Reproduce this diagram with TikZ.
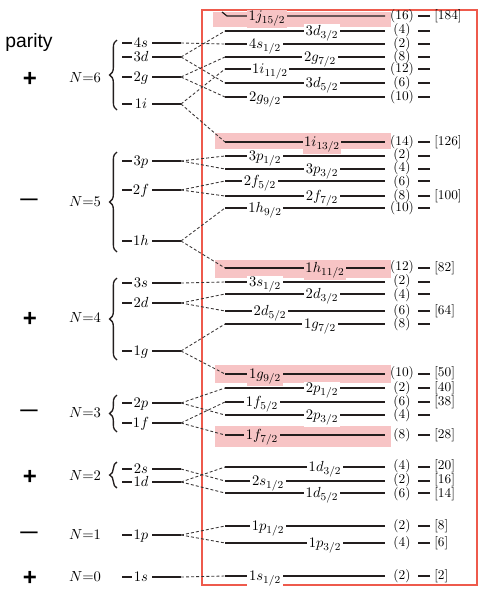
\documentclass[tikz,border=0pt]{standalone}
\usepackage{fontspec}
\newfontfamily\parfont{Liberation Sans}
\usetikzlibrary{decorations.pathreplacing}
\definecolor{figline}{RGB}{35,30,30}
\definecolor{figframe}{RGB}{238,90,76}
\definecolor{fighl}{RGB}{247,196,197}
\tikzset{
  lvl/.style  ={draw=figline, line width=0.9pt},
  conn/.style ={draw=figline!90, line width=0.65pt, dash pattern=on 2.2pt off 1.6pt},
  tick/.style ={draw=figline, line width=0.9pt},
  brc/.style  ={draw=figline, line width=1pt, decorate, decoration={brace, amplitude=5.5pt}},
  lab/.style  ={anchor=base, yshift=-3.6pt, fill=white, inner sep=1.2pt},
  labh/.style ={lab, fill=fighl},
  nlab/.style ={anchor=base, yshift=-3.6pt, inner sep=1pt},
  deg/.style  ={inner sep=0pt, font=\fontsize{10}{12}\selectfont},
  mag/.style  ={anchor=west, inner sep=0pt, font=\fontsize{10}{12}\selectfont},
  par/.style  ={font=\parfont\bfseries\fontsize{18}{18}\selectfont, inner sep=0pt},
  pard/.style ={font=\parfont\bfseries\fontsize{13}{13}\selectfont, inner sep=0pt},
  hl/.style   ={fill=fighl},
  frm/.style  ={draw=figframe, line width=1.5pt},
}

\begin{document}
\begin{tikzpicture}[x=0.75pt,y=-0.75pt,font=\fontsize{11}{13}\selectfont]
  \useasboundingbox (0,0) rectangle (484,593);
  % highlighted shell closures
  \fill[hl] (213,12) rectangle (391,27);
  \fill[hl] (215,133) rectangle (391,149);
  \fill[hl] (215,260) rectangle (391,278);
  \fill[hl] (215,365) rectangle (391,383);
  \fill[hl] (215,426) rectangle (391,447);
  \draw[frm] (202,10) rectangle (477,585);
  % parity column
  \node[font=\parfont\fontsize{14.5}{16}\selectfont, inner sep=0pt] (ptitle) at (29,42) {parity};
  \node[par] (p6) at (30,79) {+};
  \node[pard] (p5) at (29,202) {—};
  \node[par] (p4) at (30,319) {+};
  \node[pard] (p3) at (29,413) {—};
  \node[par] (p2) at (30,477) {+};
  \node[pard] (p1) at (29,535) {—};
  \node[par] (p0) at (30,578) {+};
  % oscillator shells
  \node[nlab] (N6) at (85,78) {$N{=}6$};
  \node[nlab] (N5) at (85,202) {$N{=}5$};
  \node[nlab] (N4) at (85,318) {$N{=}4$};
  \node[nlab] (N3) at (85,413) {$N{=}3$};
  \node[nlab] (N2) at (85,476) {$N{=}2$};
  \node[nlab] (N1) at (85,535) {$N{=}1$};
  \node[nlab] (N0) at (85,577) {$N{=}0$};
  \draw[brc] (117,110) -- (117,40);
  \draw[brc] (117,252) -- (117,152);
  \draw[brc] (117,360) -- (117,278);
  \draw[brc] (117,432) -- (117,395);
  \draw[brc] (117,488) -- (117,462);
  % left levels
  \draw[lvl] (122,43) -- (132,43);
  \node[nlab] (s4s) at (141,43) {$4s$};
  \draw[lvl] (152,43) -- (181,43) coordinate (L4s);
  \draw[lvl] (122,57) -- (132,57);
  \node[nlab] (s3d) at (141,57) {$3d$};
  \draw[lvl] (152,57) -- (181,57) coordinate (L3d);
  \draw[lvl] (122,77) -- (132,77);
  \node[nlab] (s2g) at (141,77) {$2g$};
  \draw[lvl] (152,77) -- (181,77) coordinate (L2g);
  \draw[lvl] (122,104) -- (132,104);
  \node[nlab] (s1i) at (141,104) {$1i$};
  \draw[lvl] (152,104) -- (181,104) coordinate (L1i);
  \draw[lvl] (122,161) -- (132,161);
  \node[nlab] (s3p) at (141,161) {$3p$};
  \draw[lvl] (152,161) -- (181,161) coordinate (L3p);
  \draw[lvl] (122,190) -- (132,190);
  \node[nlab] (s2f) at (141,190) {$2f$};
  \draw[lvl] (152,190) -- (181,190) coordinate (L2f);
  \draw[lvl] (122,241) -- (132,241);
  \node[nlab] (s1h) at (141,241) {$1h$};
  \draw[lvl] (152,241) -- (181,241) coordinate (L1h);
  \draw[lvl] (122,283) -- (132,283);
  \node[nlab] (s3s) at (141,283) {$3s$};
  \draw[lvl] (152,283) -- (181,283) coordinate (L3s);
  \draw[lvl] (122,303) -- (132,303);
  \node[nlab] (s2d) at (141,303) {$2d$};
  \draw[lvl] (152,303) -- (181,303) coordinate (L2d);
  \draw[lvl] (122,351) -- (132,351);
  \node[nlab] (s1g) at (141,351) {$1g$};
  \draw[lvl] (152,351) -- (181,351) coordinate (L1g);
  \draw[lvl] (122,403) -- (132,403);
  \node[nlab] (s2p) at (141,403) {$2p$};
  \draw[lvl] (152,403) -- (181,403) coordinate (L2p);
  \draw[lvl] (122,423) -- (132,423);
  \node[nlab] (s1f) at (141,423) {$1f$};
  \draw[lvl] (152,423) -- (181,423) coordinate (L1f);
  \draw[lvl] (122,469) -- (132,469);
  \node[nlab] (s2s) at (141,469) {$2s$};
  \draw[lvl] (152,469) -- (181,469) coordinate (L2s);
  \draw[lvl] (122,482) -- (132,482);
  \node[nlab] (s1d) at (141,482) {$1d$};
  \draw[lvl] (152,482) -- (181,482) coordinate (L1d);
  \draw[lvl] (122,535) -- (132,535);
  \node[nlab] (s1p) at (141,535) {$1p$};
  \draw[lvl] (152,535) -- (181,535) coordinate (L1p);
  \draw[lvl] (122,577) -- (132,577);
  \node[nlab] (s1s) at (141,577) {$1s$};
  \draw[lvl] (152,577) -- (181,577) coordinate (L1s);
  % right levels, N=6 and 1j
  \draw[lvl] (222,12) -- (227,16) coordinate (R1j15) -- (385,16);
  \node[labh] (t1j15) at (267,16) {$1j_{15/2}$};
  \node[deg] (d1j15) at (402,16) {(16)};
  \draw[tick] (418,16) -- (430,16);
  \node[mag] (m1j15) at (434,16) {[184]};
  \draw[lvl] (225,31) coordinate (R3d3) -- (385,31);
  \node[lab] (t3d3) at (322,31) {$3d_{3/2}$};
  \node[deg] (d3d3) at (402,30.6) {(4)};
  \draw[tick] (418,31) -- (430,31);
  \draw[lvl] (225,44) coordinate (R4s1) -- (385,44);
  \node[lab] (t4s1) at (265,44) {$4s_{1/2}$};
  \node[deg] (d4s1) at (402,44) {(2)};
  \draw[tick] (418,44) -- (430,44);
  \draw[lvl] (225,57) coordinate (R2g7) -- (385,57);
  \node[lab] (t2g7) at (320,57) {$2g_{7/2}$};
  \node[deg] (d2g7) at (402,57.4) {(8)};
  \draw[tick] (418,57) -- (430,57);
  \draw[lvl] (225,69) coordinate (R1i11) -- (385,69);
  \node[lab] (t1i11) at (270,69) {$1i_{11/2}$};
  \node[deg] (d1i11) at (402,69) {(12)};
  \draw[tick] (418,69) -- (430,69);
  \draw[lvl] (225,83) coordinate (R3d5) -- (385,83);
  \node[lab] (t3d5) at (322,83) {$3d_{5/2}$};
  \node[deg] (d3d5) at (402,83) {(6)};
  \draw[tick] (418,83) -- (430,83);
  \draw[lvl] (225,97) coordinate (R2g9) -- (385,97);
  \node[lab] (t2g9) at (265,97) {$2g_{9/2}$};
  \node[deg] (d2g9) at (402,97) {(10)};
  \draw[tick] (418,97) -- (430,97);
  \draw[lvl] (225,142) coordinate (R1i13) -- (385,142);
  \node[labh] (t1i13) at (322,142) {$1i_{13/2}$};
  \node[deg] (d1i13) at (402,142) {(14)};
  \draw[tick] (418,142) -- (430,142);
  \node[mag] (m1i13) at (434,142) {[126]};
  % N=5
  \draw[lvl] (225,156) coordinate (R3p1) -- (385,156);
  \node[lab] (t3p1) at (265,156) {$3p_{1/2}$};
  \node[deg] (d3p1) at (402,155.6) {(2)};
  \draw[tick] (418,156) -- (430,156);
  \draw[lvl] (225,169) coordinate (R3p3) -- (385,169);
  \node[lab] (t3p3) at (322,169) {$3p_{3/2}$};
  \node[deg] (d3p3) at (402,168.2) {(4)};
  \draw[tick] (418,169) -- (430,169);
  \draw[lvl] (225,181) coordinate (R2f5) -- (385,181);
  \node[lab] (t2f5) at (260,181) {$2f_{5/2}$};
  \node[deg] (d2f5) at (402,181.8) {(6)};
  \draw[tick] (418,181) -- (430,181);
  \draw[lvl] (225,196) coordinate (R2f7) -- (385,196);
  \node[lab] (t2f7) at (322,196) {$2f_{7/2}$};
  \node[deg] (d2f7) at (402,196) {(8)};
  \draw[tick] (418,196) -- (430,196);
  \node[mag] (m2f7) at (434,196) {[100]};
  \draw[lvl] (225,208) coordinate (R1h9) -- (385,208);
  \node[lab] (t1h9) at (265,208) {$1h_{9/2}$};
  \node[deg] (d1h9) at (402,208.4) {(10)};
  \draw[tick] (418,208) -- (430,208);
  \draw[lvl] (225,268) coordinate (R1h11) -- (385,268);
  \node[labh] (t1h11) at (325,268) {$1h_{11/2}$};
  \node[deg] (d1h11) at (402,267.4) {(12)};
  \draw[tick] (418,268) -- (430,268);
  \node[mag] (m1h11) at (434,268) {[82]};
  % N=4
  \draw[lvl] (225,282) coordinate (R3s1) -- (385,282);
  \node[lab] (t3s1) at (265,282) {$3s_{1/2}$};
  \node[deg] (d3s1) at (402,281.6) {(2)};
  \draw[tick] (418,282) -- (430,282);
  \draw[lvl] (225,294) coordinate (R2d3) -- (385,294);
  \node[lab] (t2d3) at (322,294) {$2d_{3/2}$};
  \node[deg] (d2d3) at (402,295) {(4)};
  \draw[tick] (418,294) -- (430,294);
  \draw[lvl] (225,311) coordinate (R2d5) -- (385,311);
  \node[lab] (t2d5) at (270,311) {$2d_{5/2}$};
  \node[deg] (d2d5) at (402,311) {(6)};
  \draw[tick] (418,311) -- (430,311);
  \node[mag] (m2d5) at (434,311) {[64]};
  \draw[lvl] (225,324) coordinate (R1g7) -- (385,324);
  \node[lab] (t1g7) at (320,324) {$1g_{7/2}$};
  \node[deg] (d1g7) at (402,324) {(8)};
  \draw[tick] (418,324) -- (430,324);
  \draw[lvl] (225,374) coordinate (R1g9) -- (385,374);
  \node[labh] (t1g9) at (265,374) {$1g_{9/2}$};
  \node[deg] (d1g9) at (402,373.6) {(10)};
  \draw[tick] (418,374) -- (430,374);
  \node[mag] (m1g9) at (434,373.6) {[50]};
  % N=3
  \draw[lvl] (225,388) coordinate (R2p1) -- (385,388);
  \node[lab] (t2p1) at (322,388) {$2p_{1/2}$};
  \node[deg] (d2p1) at (402,388) {(2)};
  \draw[tick] (418,388) -- (430,388);
  \node[mag] (m2p1) at (434,388) {[40]};
  \draw[lvl] (225,402) coordinate (R1f5) -- (385,402);
  \node[lab] (t1f5) at (262,402) {$1f_{5/2}$};
  \node[deg] (d1f5) at (402,402) {(6)};
  \draw[tick] (418,402) -- (430,402);
  \node[mag] (m1f5) at (434,402) {[38]};
  \draw[lvl] (225,415) coordinate (R2p3) -- (385,415);
  \node[lab] (t2p3) at (322,415) {$2p_{3/2}$};
  \node[deg] (d2p3) at (402,415.4) {(4)};
  \draw[tick] (418,415) -- (430,415);
  \draw[lvl] (225,435) coordinate (R1f7) -- (385,435);
  \node[labh] (t1f7) at (262,435) {$1f_{7/2}$};
  \node[deg] (d1f7) at (402,435) {(8)};
  \draw[tick] (418,435) -- (430,435);
  \node[mag] (m1f7) at (434,435) {[28]};
  % N=2
  \draw[lvl] (225,467) coordinate (R1d3) -- (385,467);
  \node[lab] (t1d3) at (325,467) {$1d_{3/2}$};
  \node[deg] (d1d3) at (402,466.6) {(4)};
  \draw[tick] (418,467) -- (430,467);
  \node[mag] (m1d3) at (434,466.6) {[20]};
  \draw[lvl] (225,481) coordinate (R2s1) -- (385,481);
  \node[lab] (t2s1) at (268,481) {$2s_{1/2}$};
  \node[deg] (d2s1) at (402,480.3) {(2)};
  \draw[tick] (418,481) -- (430,481);
  \node[mag] (m2s1) at (434,480.3) {[16]};
  \draw[lvl] (225,493) coordinate (R1d5) -- (385,493);
  \node[lab] (t1d5) at (322,493) {$1d_{5/2}$};
  \node[deg] (d1d5) at (402,494.2) {(6)};
  \draw[tick] (418,493) -- (430,493);
  \node[mag] (m1d5) at (434,494.2) {[14]};
  % N=1, N=0
  \draw[lvl] (225,526) coordinate (R1p1) -- (385,526);
  \node[lab] (t1p1) at (268,526) {$1p_{1/2}$};
  \node[deg] (d1p1) at (402,526) {(2)};
  \draw[tick] (418,526) -- (430,526);
  \node[mag] (m1p1) at (434,526) {[8]};
  \draw[lvl] (225,543) coordinate (R1p3) -- (385,543);
  \node[lab] (t1p3) at (325,543) {$1p_{3/2}$};
  \node[deg] (d1p3) at (402,543) {(4)};
  \draw[tick] (418,543) -- (430,543);
  \node[mag] (m1p3) at (434,543) {[6]};
  \draw[lvl] (225,576) coordinate (R1s1) -- (385,576);
  \node[lab] (t1s1) at (265,576) {$1s_{1/2}$};
  \node[deg] (d1s1) at (402,576) {(2)};
  \draw[tick] (418,576) -- (430,576);
  \node[mag] (m1s1) at (434,576) {[2]};
  % spin-orbit splitting
  \draw[conn] (L4s) -- (R4s1);
  \draw[conn] (L3d) -- (R3d3);
  \draw[conn] (L3d) -- (R3d5);
  \draw[conn] (L2g) -- (R2g7);
  \draw[conn] (L2g) -- (R2g9);
  \draw[conn] (L1i) -- (R1i11);
  \draw[conn] (L1i) -- (R1i13);
  \draw[conn] (L3p) -- (R3p1);
  \draw[conn] (L3p) -- (R3p3);
  \draw[conn] (L2f) -- (R2f5);
  \draw[conn] (L2f) -- (R2f7);
  \draw[conn] (L1h) -- (R1h9);
  \draw[conn] (L1h) -- (R1h11);
  \draw[conn] (L3s) -- (R3s1);
  \draw[conn] (L2d) -- (R2d3);
  \draw[conn] (L2d) -- (R2d5);
  \draw[conn] (L1g) -- (R1g7);
  \draw[conn] (L1g) -- (R1g9);
  \draw[conn] (L2p) -- (R2p1);
  \draw[conn] (L2p) -- (R2p3);
  \draw[conn] (L1f) -- (R1f5);
  \draw[conn] (L1f) -- (R1f7);
  \draw[conn] (L2s) -- (R2s1);
  \draw[conn] (L1d) -- (R1d3);
  \draw[conn] (L1d) -- (R1d5);
  \draw[conn] (L1p) -- (R1p1);
  \draw[conn] (L1p) -- (R1p3);
  \draw[conn] (L1s) -- (R1s1);
\end{tikzpicture}
\end{document}
